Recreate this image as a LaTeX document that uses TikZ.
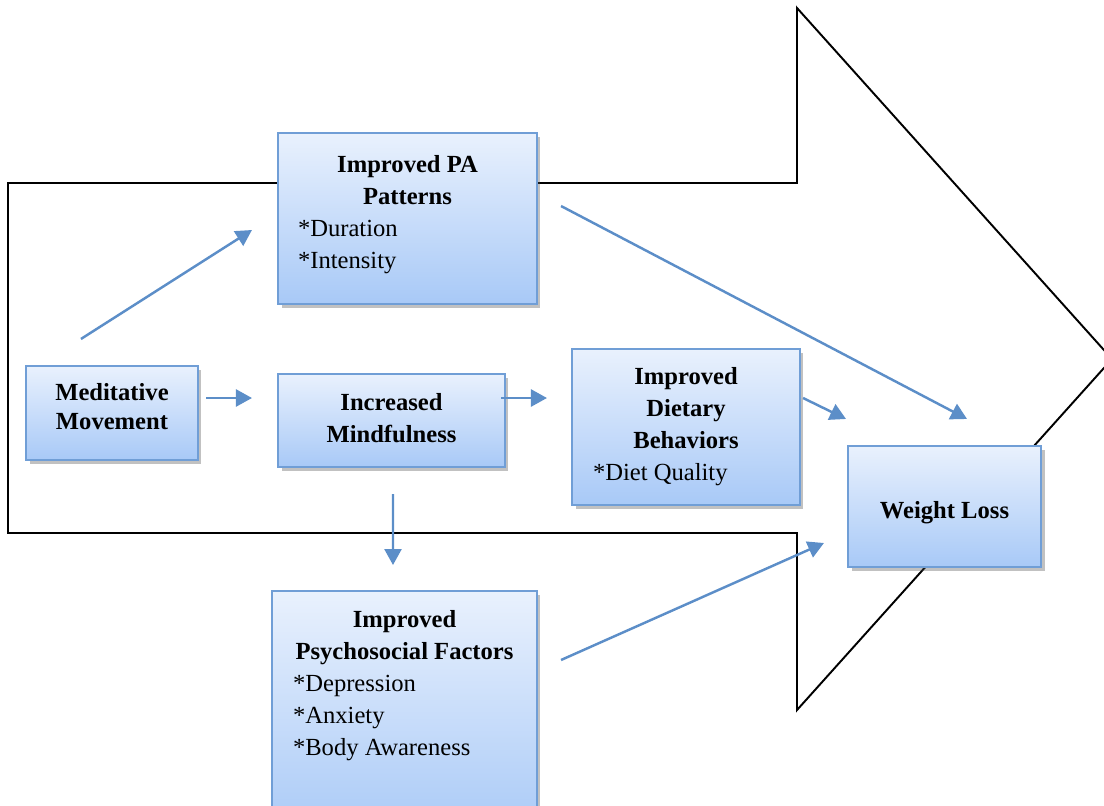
\documentclass[tikz,border=0pt]{standalone}
\usepackage{fontspec}
\setmainfont{Liberation Serif}
\usetikzlibrary{arrows.meta,shadows}
\definecolor{boxtop}{RGB}{233,241,253}
\definecolor{boxbot}{RGB}{168,201,247}
\definecolor{boxline}{RGB}{112,158,214}
\definecolor{flowblue}{RGB}{92,142,200}
\tikzset{>={Triangle[length=.32cm, width=.34cm]}}
\tikzset{
    factor/.style={draw=boxline, line width=1.2pt, top color=boxtop, bottom color=boxbot,
        drop shadow={shadow xshift=.07cm, shadow yshift=-.08cm, opacity=.35, fill=black!70},
        font=\fontsize{14}{18.2}\selectfont, inner sep=0pt},
    flow/.style={->, draw=flowblue, line width=1.4pt}
}
\newcommand*{\hd}[1]{{\centering\bfseries #1\par}}

\begin{document}
\begin{tikzpicture}[x=.02cm, y=-.02cm]
    \useasboundingbox(0, 0) rectangle (1104, 805);
    % the big arrow behind
    \draw[line width=1.1pt](8, 183)--(797, 183)--(797, 8)--(1112, 359)--(797, 710)--(797, 533)--(8, 533)--cycle;
    % boxes
    \node[factor, minimum width=3.44cm, minimum height=1.88cm, align=center, font=\fontsize{14}{16.5}\selectfont\bfseries](med)at(112, 413){Meditative\\Movement\rule[-.25cm]{0pt}{.25cm}};
    \node[factor, minimum width=4.54cm, minimum height=1.86cm, align=center, font=\fontsize{14}{18.2}\selectfont\bfseries](mind)at(391.5, 420.5){Increased\\Mindfulness\rule[-.12cm]{0pt}{.12cm}};
    \node[factor, text width=4.38cm, inner xsep=.4cm, minimum height=3.42cm, align=flush left](pa)at(407.5, 218.5){\hd{Improved PA\\Patterns}*Duration\\{}*Intensity\rule[-.25cm]{0pt}{.25cm}};
    \node[factor, text width=3.72cm, inner xsep=.42cm, minimum height=3.12cm, align=flush left](diet)at(686, 427){\hd{Improved\\Dietary\\Behaviors}*Diet Quality};
    \node[factor, minimum width=3.86cm, minimum height=2.42cm, font=\fontsize{14}{18.2}\selectfont\bfseries](wl)at(944.5, 506.5){\rule{0pt}{.57cm}Weight Loss};
    \node[factor, anchor=north, text width=4.46cm, inner xsep=.42cm, inner ysep=.38cm, align=flush left](psy)at(404.5, 590){\hd{Improved\\\mbox{Psychosocial Factors}}*Depression\\{}*Anxiety\\{}*Body Awareness\rule[-1.3cm]{0pt}{1.3cm}};
    % paths
    \draw[flow]([shift={(56, -26)}]med.north west)--([shift={(-25, 11.5)}]pa.west);
    \draw[flow]([shift={(7, -15)}]med.east)--([shift={(-25, -22.5)}]mind.west);
    \draw[flow]([shift={(-5, -22.5)}]mind.east)--([shift={(-24, -29)}]diet.west);
    \draw[flow]([shift={(1.5, 26)}]mind.south)--([shift={(-11.5, -25)}]psy.north);
    \draw[flow]([shift={(23, -12.5)}]pa.east)--([shift={(22.5, -26)}]wl.north);
    \draw[flow]([shift={(2, -29)}]diet.east)--([shift={(-1, -26)}]wl.north west);
    \draw[flow]([shift={(23, 70)}]psy.north east)--([shift={(-23, 36.5)}]wl.west);
\end{tikzpicture}
\end{document}
